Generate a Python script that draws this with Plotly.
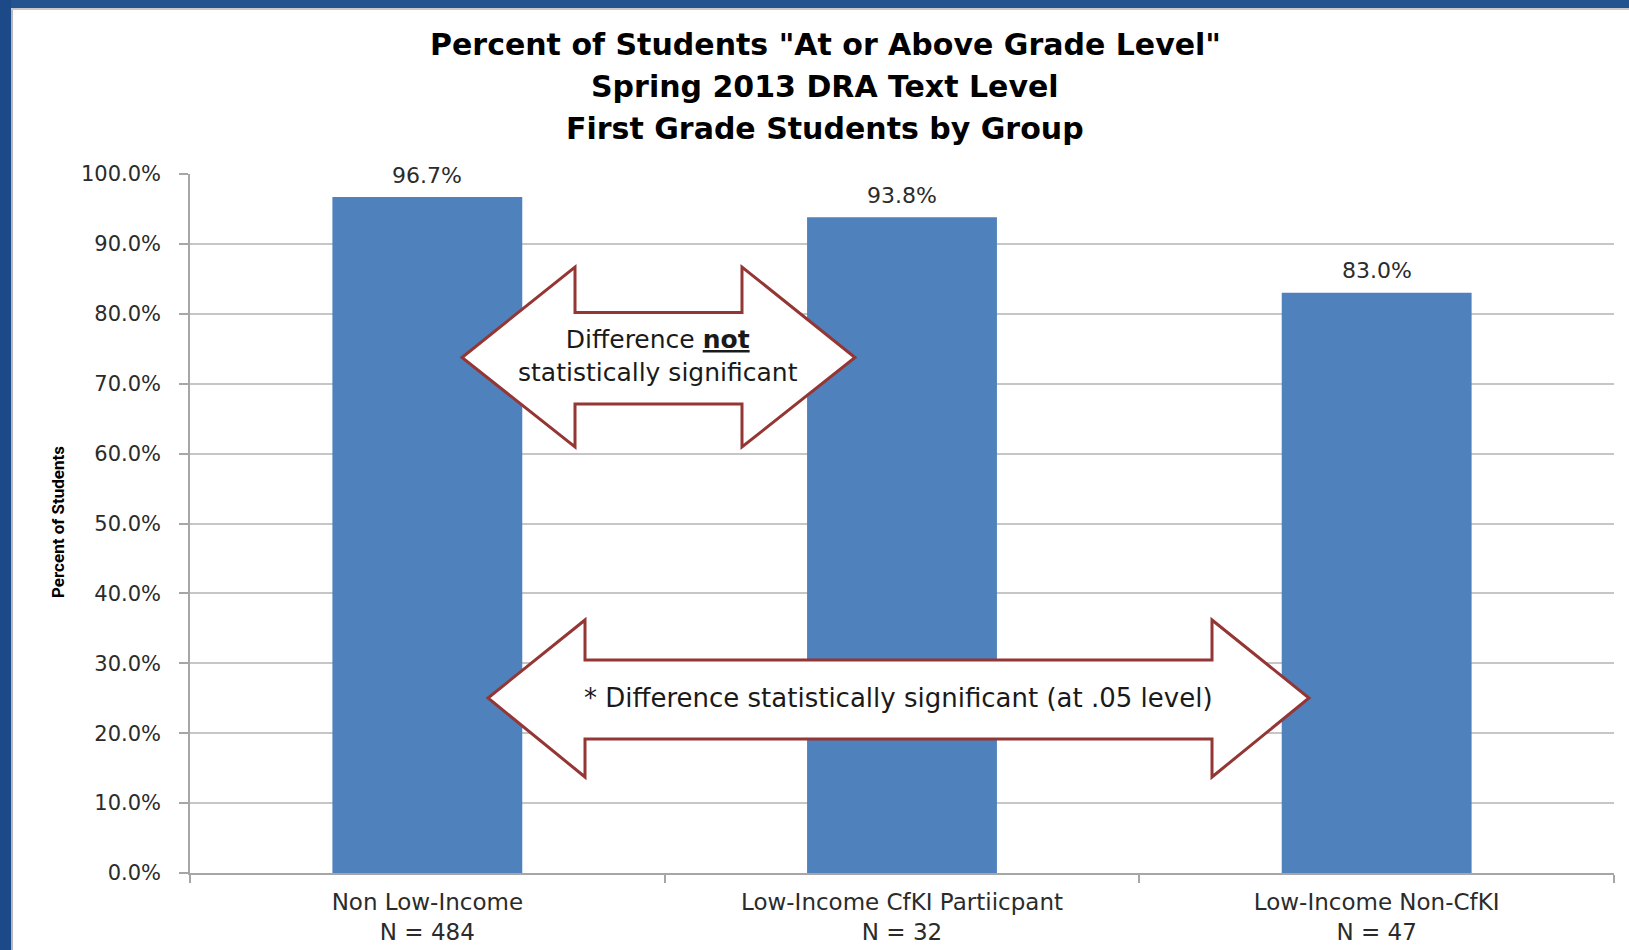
import plotly.graph_objects as go

# ---- data ----
groups = ["Non Low-Income", "Low-Income CfKI Partiicpant", "Low-Income Non-CfKI"]
n_values = [484, 32, 47]
pct_at_or_above = [96.7, 93.8, 83.0]
title_lines = ['Percent of Students "At or Above Grade Level"',
               "Spring 2013 DRA Text Level",
               "First Grade Students by Group"]
y_title = "Percent of Students"
note_not_sig = "Difference <b><u>not</u></b><br>statistically significant"
note_sig = "* Difference statistically significant (at .05 level)"

# ---- layout geometry (pixels) ----
W, H = 1629, 950
PL, PR, PT, PB = 190, 1614, 174, 873


def fx(px):
    return (px - PL) / (PR - PL)


def fy(py):
    return (PB - py) / (PB - PT)


tick_text = [f"{g}<br>N = {n}" for g, n in zip(groups, n_values)]
TXT = "#2b2b2b"
FONT = "DejaVu Sans"

fig = go.Figure(
    go.Bar(
        x=groups,
        y=pct_at_or_above,
        marker=dict(color="#4f81bd", line=dict(width=0)),
        hoverinfo="skip",
    )
)

annotations = []
# data labels
for g, v in zip(groups, pct_at_or_above):
    annotations.append(dict(
        x=g, y=v, xref="x", yref="y", text=f"{v:.1f}%", showarrow=False,
        yanchor="middle", yshift=22, font=dict(family=FONT, size=22, color=TXT)))

# title lines
for line, py in zip(title_lines, [44.5, 86.5, 128.5]):
    annotations.append(dict(
        x=fx(825), y=fy(py), xref="paper", yref="paper", text=f"<b>{line}</b>",
        showarrow=False, xanchor="center", yanchor="middle",
        font=dict(family="DejaVu Sans", size=30, color="#000000")))

# y axis title
annotations.append(dict(
    x=fx(58), y=fy(522), xref="paper", yref="paper", text=f"<b>{y_title}</b>",
    showarrow=False, textangle=-90, xanchor="center", yanchor="middle",
    font=dict(family="Liberation Sans Narrow, Roboto", size=17, color="#000000")))

# arrow texts
annotations.append(dict(
    x=fx(658), y=fy(356), xref="paper", yref="paper", text=note_not_sig,
    showarrow=False, xanchor="center", yanchor="middle",
    font=dict(family=FONT, size=25, color="#1a1a1a")))
annotations.append(dict(
    x=fx(898), y=fy(698), xref="paper", yref="paper", text=note_sig,
    showarrow=False, xanchor="center", yanchor="middle",
    font=dict(family=FONT, size=26, color="#1a1a1a")))


def arrow_path(tipL, tipR, tipY, headTop, headBot, baseL, baseR, shaftTop, shaftBot):
    pts = [(tipL, tipY), (baseL, headTop), (baseL, shaftTop), (baseR, shaftTop),
           (baseR, headTop), (tipR, tipY), (baseR, headBot), (baseR, shaftBot),
           (baseL, shaftBot), (baseL, headBot)]
    return "M " + " L ".join(f"{fx(a):.5f},{fy(b):.5f}" for a, b in pts) + " Z"


shapes = [
    # frame
    dict(type="rect", xref="paper", yref="paper", x0=fx(0), x1=fx(W), y0=fy(0), y1=fy(8),
         fillcolor="#24548f", line=dict(width=0), layer="below"),
    dict(type="rect", xref="paper", yref="paper", x0=fx(0), x1=fx(11), y0=fy(0), y1=fy(H),
         fillcolor="#1c4a89", line=dict(width=0), layer="below"),
    dict(type="rect", xref="paper", yref="paper", x0=fx(11), x1=fx(13), y0=fy(8), y1=fy(H),
         fillcolor="#b8b8b8", line=dict(width=0), layer="below"),
    dict(type="rect", xref="paper", yref="paper", x0=fx(11), x1=fx(W), y0=fy(8), y1=fy(10),
         fillcolor="#c8c8c8", line=dict(width=0), layer="below"),
    # arrows
    dict(type="path", xref="paper", yref="paper",
         path=arrow_path(462, 855, 357.5, 267, 447, 575, 742, 312.5, 404),
         fillcolor="#ffffff", line=dict(color="#943634", width=3), layer="above"),
    dict(type="path", xref="paper", yref="paper",
         path=arrow_path(488, 1309, 698, 620, 777, 585, 1212, 660, 739),
         fillcolor="#ffffff", line=dict(color="#943634", width=3), layer="above"),
]

fig.update_layout(
    width=W, height=H,
    margin=dict(l=PL, r=W - PR, t=PT, b=H - PB, autoexpand=False),
    paper_bgcolor="#ffffff", plot_bgcolor="#ffffff",
    bargap=0.6, showlegend=False,
    annotations=annotations, shapes=shapes,
)
fig.update_xaxes(
    type="category", tickmode="array", tickvals=groups, ticktext=tick_text,
    showgrid=False, showline=True, linecolor="#a6a6a6", linewidth=1.5,
    ticks="outside", tickson="boundaries", ticklen=8, tickcolor="#a6a6a6", tickwidth=1.5,
    tickfont=dict(family=FONT, size=23, color=TXT), ticklabelstandoff=8,
    automargin=False,
)
fig.update_yaxes(
    range=[0, 100], dtick=10, tickformat=".1f", ticksuffix="%",
    showgrid=True, gridcolor="#c6c6c6", gridwidth=1.5,
    showline=True, linecolor="#a6a6a6", linewidth=1.5,
    ticks="outside", ticklen=9, tickcolor="#a6a6a6", tickwidth=1.5,
    tickfont=dict(family=FONT, size=21, color=TXT), ticklabelstandoff=14,
    zeroline=False, automargin=False,
)

fig.write_html("out.html")
